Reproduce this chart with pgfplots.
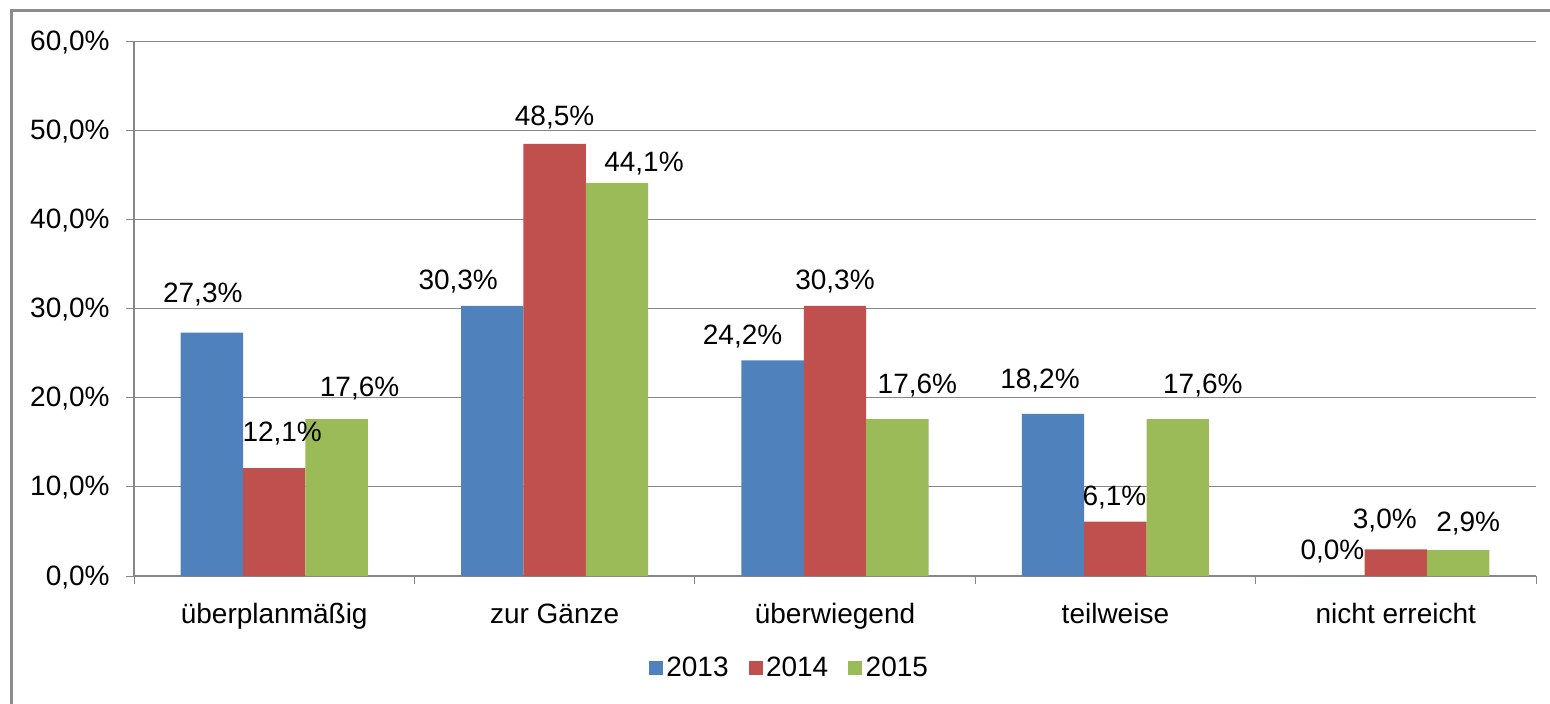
\documentclass[border=0pt]{standalone}
\usepackage{fontspec}
\setmainfont{Liberation Sans}
\usepackage{pgfplots}
\pgfplotsset{compat=1.18}
\usepackage{pgfplotstable}
\definecolor{c13}{HTML}{4F81BD}
\definecolor{c14}{HTML}{C0504D}
\definecolor{c15}{HTML}{9BBB59}
\definecolor{gridc}{HTML}{868686}
\definecolor{framec}{HTML}{8C8C8C}

% x = category, y = value (%), dx/dy = label offset in px from category centre / bar top
\pgfplotstableread{
x y dx dy
0 27.3 -71.4 40
1 30.3 -96.4 26
2 24.2 -92.4 26
3 18.2 -75.4 35
4 0.0 -63.4 27
}\dataA
\pgfplotstableread{
x y dx dy
0 12.1 8 37
1 48.5 0 28
2 30.3 0 26
3 6.1 -1 26
4 3.0 -11 31
}\dataB
\pgfplotstableread{
x y dx dy
0 17.6 85.4 33
1 44.1 89.4 21
2 17.6 82.4 36
3 17.6 87.4 36
4 2.9 72.4 29
}\dataC

\pgfplotsset{
  mybar/.style={
    ybar, bar width=0.2225, bar shift=#1, draw=none, forget plot,
    nodes near coords={\pgfmathprintnumber[fixed,fixed zerofill,precision=1,use comma]{\pgfplotspointmeta}\%},
    visualization depends on={\thisrow{dx} \as \dx},
    visualization depends on={\thisrow{dy} \as \dy},
    every node near coord/.append style={anchor=base, inner sep=0pt, text=black,
      xshift=\dx*0.5pt, yshift=(\dy-10)*0.5pt},
  }
}

\begin{document}
\begin{tikzpicture}[font=\fontsize{14}{16.8}\selectfont]
\useasboundingbox (0,0) rectangle (775pt,-352pt);
\draw[framec, line width=1.5pt] (5.75pt,-360pt) -- (5.75pt,-5.25pt) -- (780pt,-5.25pt);
\begin{axis}[
  at={(67pt,-288pt)}, anchor=south west,
  scale only axis, width=701pt, height=267.35pt,
  xmin=-0.5, xmax=4.5, ymin=0, ymax=60,
  axis x line*=bottom, axis y line*=left,
  axis line style={-, draw=gridc, line width=0.6pt},
  /pgf/number format/assume math mode=true,
  ytick={0,10,...,60},
  yticklabel={\pgfmathprintnumber[fixed,fixed zerofill,precision=1,use comma]{\tick}\%},
  yticklabel style={anchor=base east, inner sep=0pt, xshift=-8pt, yshift=-4.5pt},
  ymajorgrids, grid style={draw=gridc, line width=0.5pt},
  xtick={0,...,4},
  xticklabels={überplanmäßig, zur Gänze, überwiegend, teilweise, nicht erreicht},
  xticklabel style={anchor=base, inner sep=0pt, yshift=-19.5pt},
  minor xtick={-0.5,0.5,...,4.5},
  tick align=outside,
  major tick length=4pt, minor tick length=4pt,
  major x tick style={draw=none},
  minor x tick style={draw=gridc, line width=0.5pt},
  major y tick style={draw=gridc, line width=0.5pt},
  legend columns=-1,
  legend style={at={(0.468,-0.172)}, anchor=center, draw=none, fill=none,
    /tikz/every even column/.append style={column sep=8.5pt},
    nodes={inner sep=1.6pt}},
  legend image code/.code={\fill[#1] (0pt,-3.5pt) rectangle (7pt,3.5pt);},
  clip=false,
]
\addplot[mybar=-0.2225, fill=c13] table[x=x,y=y]{\dataA};
\addplot[mybar=0, fill=c14] table[x=x,y=y]{\dataB};
\addplot[mybar=0.2225, fill=c15] table[x=x,y=y]{\dataC};
\addlegendimage{fill=c13, draw=none}
\addlegendentry{2013}
\addlegendimage{fill=c14, draw=none}
\addlegendentry{2014}
\addlegendimage{fill=c15, draw=none}
\addlegendentry{2015}
\end{axis}
\end{tikzpicture}
\end{document}
